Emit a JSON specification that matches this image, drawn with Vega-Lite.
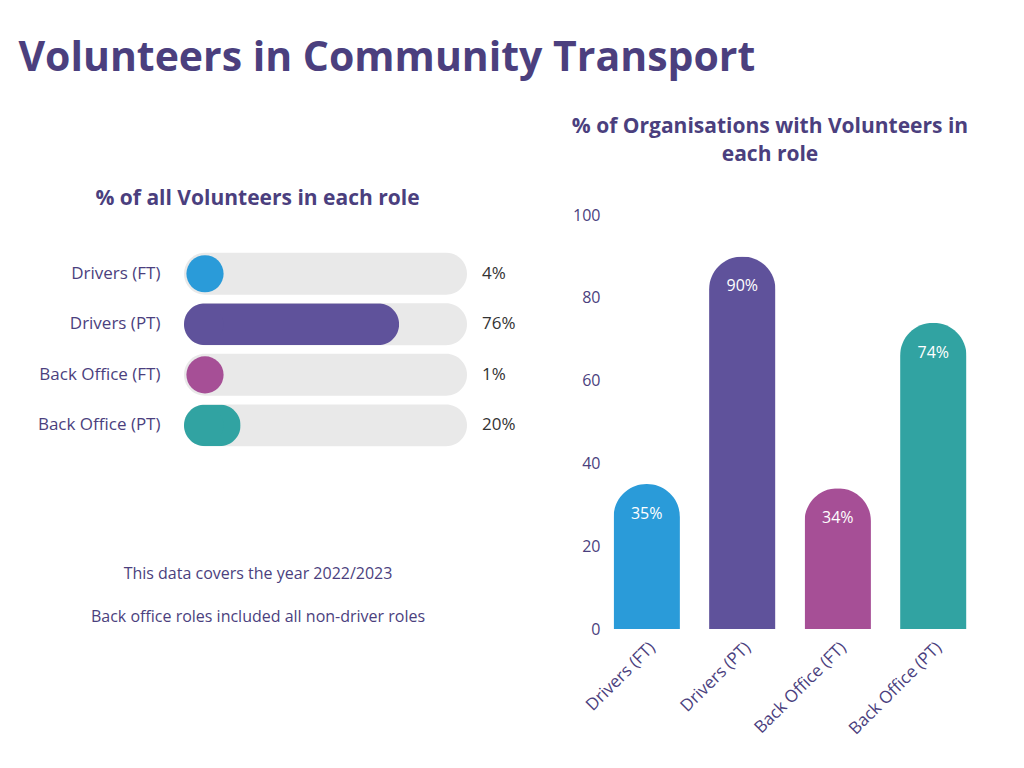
{
  "$schema": "https://vega.github.io/schema/vega-lite/v6.json",
  "background": "white",
  "padding": {"left": 18, "top": 38, "right": 10, "bottom": 10},
  "title": {"text": "Volunteers in Community Transport", "anchor": "start", "fontSize": 41, "dx": -19, "offset": 36},
  "config": {
    "font": "Open Sans",
    "view": {"stroke": null},
    "title": {"font": "Open Sans", "fontWeight": "bold", "color": "#4b3f7e"},
    "axis": {"labelFont": "Open Sans", "labelColor": "#4b3f7e", "labelFontSize": 17, "ticks": false, "domain": false, "grid": false, "title": null},
    "text": {"font": "Open Sans"}
  },
  "datasets": {
    "share": [
      {"role": "Drivers (FT)", "value": 0.04},
      {"role": "Drivers (PT)", "value": 0.76},
      {"role": "Back Office (FT)", "value": 0.01},
      {"role": "Back Office (PT)", "value": 0.20}
    ],
    "orgs": [
      {"role": "Drivers (FT)", "value": 0.35},
      {"role": "Drivers (PT)", "value": 0.90},
      {"role": "Back Office (FT)", "value": 0.34},
      {"role": "Back Office (PT)", "value": 0.74}
    ],
    "notes": [
      {"note": "This data covers the year 2022/2023"},
      {"note": "Back office roles included all non-driver roles"}
    ]
  },
  "spacing": 55,
  "hconcat": [
    {
      "spacing": 101,
      "vconcat": [
        {
          "width": 283, "height": 236,
          "title": {"text": "% of all Volunteers in each role", "fontSize": 21, "offset": 6, "dx": -68},
          "data": {"name": "share"},
          "encoding": {
            "y": {"field": "role", "type": "nominal", "sort": ["Drivers (FT)", "Drivers (PT)", "Back Office (FT)", "Back Office (PT)"],
                  "scale": {"paddingInner": 0.17, "paddingOuter": 0.42, "align": 0.89},
                  "axis": {"labelPadding": 24, "tickSize": 0}}
          },
          "layer": [
            {"mark": {"type": "bar", "cornerRadius": 21, "color": "#e9e9e9"},
             "encoding": {"x": {"datum": 1, "type": "quantitative", "scale": {"domain": [0, 1]}, "axis": null}}},
            {"mark": {"type": "bar", "cornerRadius": 21},
             "encoding": {"x": {"field": "value", "type": "quantitative", "axis": null},
                          "opacity": {"condition": {"test": "datum.value < 0.15", "value": 0}, "value": 1},
                          "color": {"field": "role", "type": "nominal", "legend": null,
                                    "scale": {"domain": ["Drivers (FT)", "Drivers (PT)", "Back Office (FT)", "Back Office (PT)"], "range": ["#2a9bd9", "#5f529b", "#a64f96", "#31a3a2"]}}}},
            {"mark": {"type": "point", "shape": "circle", "filled": true, "opacity": 1, "size": 1385, "xOffset": 21},
             "encoding": {"x": {"datum": 0, "type": "quantitative", "axis": null},
                          "color": {"field": "role", "type": "nominal", "legend": null}}},
            {"mark": {"type": "text", "align": "left", "dx": 15, "fontSize": 17, "color": "#333333"},
             "encoding": {"x": {"datum": 1, "type": "quantitative", "axis": null},
                          "text": {"field": "value", "type": "quantitative", "format": ".0%"}}}
          ]
        },
        {
          "width": 148, "height": 86,
          "data": {"name": "notes"},
          "mark": {"type": "text", "fontSize": 16, "color": "#4b3f7e"},
          "encoding": {
            "y": {"field": "note", "type": "nominal", "sort": null, "axis": null, "scale": {"type": "band", "paddingInner": 0, "paddingOuter": 0}},
            "text": {"field": "note"}
          }
        }
      ]
    },
    {
      "vconcat": [
        {
          "width": 372, "height": 414,
          "title": {"text": ["% of Organisations with Volunteers in", "each role"], "fontSize": 21, "lineHeight": 28, "offset": 42, "dx": -20},
          "data": {"name": "orgs"},
          "encoding": {
            "x": {"field": "role", "type": "nominal", "sort": ["Drivers (FT)", "Drivers (PT)", "Back Office (FT)", "Back Office (PT)"],
                  "scale": {"paddingInner": 0.305, "paddingOuter": 0.1},
                  "axis": {"labelAngle": -45, "labelPadding": 10, "tickSize": 0}},
            "y": {"field": "value", "type": "quantitative", "scale": {"domain": [0, 1]},
                  "axis": {"values": [0, 0.2, 0.4, 0.6, 0.8, 1], "labelExpr": "format(datum.value*100, 'd')", "labelPadding": 4, "tickSize": 0, "labelFontSize": 16}}
          },
          "layer": [
            {"mark": {"type": "bar", "cornerRadiusTopLeft": 33, "cornerRadiusTopRight": 33},
             "encoding": {"color": {"field": "role", "type": "nominal", "legend": null,
                                    "scale": {"domain": ["Drivers (FT)", "Drivers (PT)", "Back Office (FT)", "Back Office (PT)"], "range": ["#2a9bd9", "#5f529b", "#a64f96", "#31a3a2"]}}}},
            {"mark": {"type": "text", "color": "white", "fontSize": 16, "baseline": "middle", "dy": 30},
             "encoding": {"text": {"field": "value", "type": "quantitative", "format": ".0%"}}}
          ]
        }
      ]
    }
  ]
}
